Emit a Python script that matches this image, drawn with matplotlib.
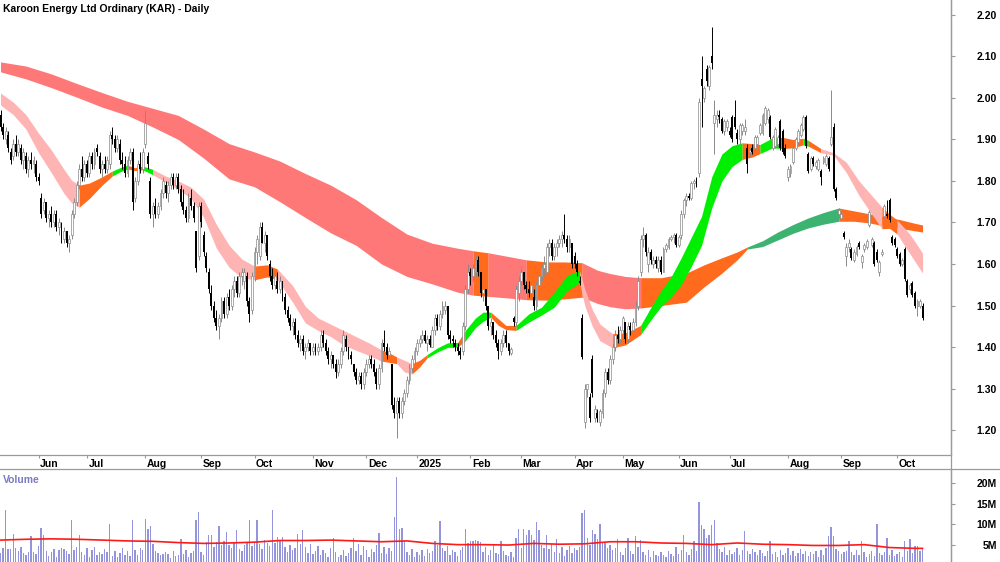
import numpy as np
import pandas as pd
import matplotlib
matplotlib.use("Agg")
import matplotlib.pyplot as plt
import matplotlib.transforms as mtransforms
from matplotlib.lines import Line2D

plt.rcParams['font.family'] = ['Liberation Sans', 'DejaVu Sans']

TITLE = "Karoon Energy Ltd Ordinary (KAR) - Daily"

# ASX trading days shown: 13 May 2024 .. 15 Oct 2025
first_day, last_day = "2024-05-13", "2025-10-15"
asx_holidays = ["2024-06-10", "2024-12-25", "2024-12-26", "2025-01-01", "2025-01-27",
                "2025-04-18", "2025-04-21", "2025-04-25", "2025-06-09"]

# daily prices in cents
opens = [
    196, 193, 190, 191, 187, 186, 189, 187, 188, 185,
    186, 183, 185, 184, 184, 181, 176, 173, 175, 171,
    172, 170, 172, 169, 169, 166, 168, 165, 167, 172,
    175, 179, 183, 181, 184, 182, 186, 184, 188, 186,
    183, 184, 183, 184, 191, 190, 188, 189, 185, 184,
    182, 185, 187, 176, 180, 184, 183, 189, 186, 180,
    172, 174, 172, 174, 177, 179, 177, 179, 181, 179,
    181, 178, 175, 173, 171, 176, 174, 168, 162, 174,
    167, 162, 158, 153, 150, 147, 145, 147, 151, 148,
    152, 150, 154, 156, 153, 157, 156, 157, 151, 149,
    157, 163, 162, 169, 165, 167, 160, 157, 155, 156,
    154, 156, 152, 149, 147, 145, 146, 143, 141, 142,
    139, 140, 141, 139, 140, 139, 140, 143, 141, 139,
    137, 138, 136, 134, 136, 139, 142, 140, 138, 136,
    134, 132, 133, 131, 134, 136, 137, 136, 134, 131,
    135, 141, 140, 138, 136, 126, 124, 127, 124, 127,
    129, 132, 135, 137, 139, 141, 142, 143, 141, 142,
    140, 144, 147, 145, 148, 149, 150, 143, 142, 141,
    140, 139, 139, 145, 154, 158, 157, 158, 161, 158,
    153, 154, 150, 145, 146, 143, 141, 139, 141, 143,
    141, 138.5, 147, 146, 153, 156, 158, 155, 154, 153,
    152, 150, 155, 157, 159, 158, 164, 165, 162, 164,
    165, 166, 167, 166, 164, 165, 162, 160, 156, 147,
    122, 130, 128, 137, 123, 124, 122, 124, 129, 134,
    132, 137, 140, 143, 142, 144, 146, 142, 145, 144,
    146, 150, 158, 166, 167, 160, 163, 160, 161, 159,
    161, 158, 163.5, 164, 166, 166.5, 167, 164.5, 167, 172,
    175.5, 176.5, 176, 179.5, 180.5, 182, 204.5, 200, 207, 203,
    210, 194, 195, 196, 195, 192, 193, 192, 195.5, 195.5,
    191.5, 190, 192, 192, 188, 187, 188, 188, 189, 191.5,
    191.5, 194, 195, 195.5, 188, 188.5, 189, 194.5, 192, 188,
    181, 182, 184.5, 188, 189.5, 191, 192.5, 195.5, 186.5, 183,
    185.5, 183.5, 183, 182.5, 184.5, 184, 185.5, 189, 193, 178,
    172, 171, 167.5, 162, 164, 163.5, 161, 162.5, 165, 160.5,
    163.5, 164, 169.5, 164.5, 165, 163, 158, 162.5, 171.5, 172,
    175.5, 166.5, 166, 163.5, 162.5, 160, 163.5, 156, 154, 155.5,
    153, 150, 150, 150,
]
highs = [
    197, 194, 193, 192, 188, 190, 191, 190, 189, 188,
    187, 186, 187, 186, 185, 182, 177, 176, 175, 173,
    174, 173, 173, 171, 170, 169, 168, 167, 173, 176,
    180, 184, 186, 185, 185, 187, 187, 188, 189, 187,
    185, 186, 186, 192, 193, 191, 191, 190, 187, 186,
    186, 188, 188, 181, 185, 187, 188, 197, 187, 181,
    175, 176, 175, 178, 181, 180, 180, 182, 182, 182,
    182, 179, 178, 174, 177, 178, 175, 168, 175, 175,
    168, 163, 159, 155, 151, 149, 148, 152, 152, 153,
    154, 155, 157, 157, 158, 159, 159, 158, 152, 158,
    164, 167, 170, 170, 168, 167, 161, 159, 158, 158,
    157, 156, 153, 150, 148, 147, 147, 144, 143, 143,
    141, 142, 141, 141, 141, 141, 144, 144, 142, 140,
    139, 138, 137, 137, 140, 144, 143, 140, 139, 136,
    135, 134, 134, 135, 137, 138, 138, 137, 135, 136,
    142, 144, 141, 140, 136, 128, 128, 128, 128, 130,
    133, 136, 138, 140, 142, 143, 144, 144, 143, 143,
    145, 148, 148, 149, 151, 151, 150, 144, 143, 142,
    141, 140, 146, 155, 160, 159, 160, 162, 162, 158,
    155, 154, 150, 147, 146, 144, 142, 142, 144, 144,
    141, 140, 147.5, 155, 157, 159, 158, 156, 156, 156,
    154, 156, 158, 160, 162, 165, 166, 166, 165, 166,
    167, 168, 172, 167, 167, 165, 163, 161, 157, 148,
    131, 131, 129, 138, 126, 125, 125, 130, 135, 135,
    138, 141, 144, 145, 145, 147.5, 146, 146, 146, 147,
    151, 157, 167, 169, 167.5, 164, 163.5, 162, 162, 162,
    162, 164, 165, 166.5, 167, 167.5, 167.5, 167, 173, 176,
    177, 177, 180, 180.5, 181, 200, 210, 203, 208, 208,
    217, 199.5, 197, 197, 195.5, 195, 195, 193, 196, 199.5,
    192.5, 194, 194, 195, 189, 188, 189, 191, 191, 194,
    196.5, 198, 197.5, 196, 191, 193, 191, 195, 192.5, 189,
    183.5, 184, 188.5, 190.5, 192.5, 194, 196, 196, 187, 186,
    186, 185, 185.5, 183, 186, 186.5, 186, 202, 194, 178.5,
    173.5, 172.5, 168, 165, 166, 164, 163.5, 164.5, 165.5, 162.5,
    165, 166, 173, 166.5, 165.5, 163.5, 161, 163.5, 174.5, 175.5,
    176, 167, 166.5, 164, 163, 161.5, 164, 156.5, 155.5, 156,
    153.5, 151.5, 151.5, 150.5,
]
lows = [
    192, 190, 189, 187, 184, 185, 186, 186, 184, 183,
    182, 181, 183, 182, 180, 179, 171, 172, 170, 169,
    169, 169, 168, 167, 165, 165, 164, 163, 166, 171,
    174, 178, 180, 180, 181, 181, 183, 183, 186, 182,
    181, 182, 182, 183, 189, 187, 187, 184, 183, 181,
    181, 184, 173, 175, 179, 182, 182, 188, 183, 171,
    169, 171, 171, 173, 176, 176, 175, 178, 178, 178,
    177, 174, 172, 170, 170, 173, 170, 158, 161, 169,
    162, 158, 153, 149, 146, 144, 142, 146, 147, 147,
    149, 149, 152, 152, 152, 155, 154, 150, 146, 148,
    156, 160, 161, 165, 163, 161, 156, 154, 154, 153,
    153, 151, 148, 146, 144, 143, 142, 140, 139, 138,
    137, 139, 138, 138, 138, 138, 139, 140, 138, 136,
    135, 135, 132.5, 133, 135, 138, 139, 137, 136, 133,
    131, 131, 130, 130, 133, 135, 135, 133, 130, 130,
    134, 139, 137, 137, 125, 123, 118, 123, 123, 126,
    128, 131, 134, 136, 138, 140, 141, 141, 139, 140,
    140, 143, 144, 144, 147, 148, 142, 141, 140, 139,
    138, 137, 138, 144, 153, 155, 156, 157, 157, 152,
    151, 149, 144, 143, 142, 140, 137, 138, 140, 140,
    138, 138, 145, 145, 151, 155, 154, 153, 152, 152,
    149, 149, 154, 156, 157, 157, 162, 161, 161, 162,
    164, 164, 165, 163, 163, 159, 159, 157, 155, 137,
    120.5, 128, 122, 128, 122, 122, 121, 123, 128, 131,
    131, 136, 139, 141, 141, 143, 141, 141, 143, 143,
    145, 149, 157, 164, 162, 158, 160, 159, 159, 158,
    157.5, 158, 163, 163.5, 165.5, 165, 164, 164, 166, 171,
    174, 175.5, 175.5, 178, 178.5, 181, 193, 199, 203, 202,
    207, 186.5, 193, 194, 191.5, 191, 192, 190.5, 189.5, 192.5,
    189, 189, 191, 191, 182, 186, 186.5, 187.5, 188.5, 191,
    191, 193.5, 194, 190, 187.5, 188, 188.5, 187.5, 186.5, 185.5,
    180, 181, 184, 187.5, 189, 190.5, 192, 188, 182, 182.5,
    183.5, 183, 182.5, 179, 184, 183.5, 182.5, 188.5, 177.5, 175.5,
    171, 170.5, 166, 159.5, 163, 161, 160.5, 162, 163.5, 159,
    163, 163.5, 169, 164, 159.5, 160.5, 157, 162, 171, 171,
    170, 164.5, 164, 161.5, 159.5, 159.5, 156, 152, 153, 152,
    149.5, 147.5, 149.5, 146.5,
]
closes = [
    193, 191, 192, 188, 185, 189, 187, 189, 185, 187,
    183, 185, 184, 185, 181, 180, 172, 175, 171, 172,
    170, 172, 169, 170, 166, 168, 165, 166, 172, 175,
    179, 183, 181, 184, 182, 186, 184, 187, 187, 183,
    184, 183, 185, 191, 190, 188, 190, 185, 184, 182,
    185, 187, 175, 180, 184, 183, 187, 194, 184, 172,
    174, 172, 174, 177, 180, 177, 179, 181, 179, 181,
    178, 175, 173, 171, 176, 174, 171, 159, 174, 170,
    163, 159, 154, 150, 147, 145, 147, 151, 148, 152,
    150, 154, 156, 153, 157, 158, 158, 151, 148, 157,
    163, 166, 169, 165, 167, 162, 157, 155, 157, 154,
    156, 152, 149, 147, 145, 146, 143, 141, 142, 139,
    140, 141, 139, 140, 139, 140, 143, 141, 139, 137,
    138, 136, 134, 136, 139, 143, 140, 138, 137, 134,
    132, 133, 131, 134, 136, 137, 136, 134, 131, 135,
    141, 140, 138, 139, 126, 124, 127, 124, 127, 129,
    132, 135, 137, 139, 141, 142, 143, 141.5, 142, 140.5,
    144, 147, 145, 148, 150, 150, 143, 142, 141.5, 140,
    139, 138, 145, 154, 158, 157, 159, 161, 158, 153,
    154, 150, 145, 146, 143, 141, 139, 141, 143, 141,
    139, 139.5, 146, 154, 156, 158, 155, 154, 153, 155,
    150, 155, 157, 159, 160, 164, 165, 162, 164, 165,
    166, 167, 166, 164, 166, 160, 160, 158, 155.5, 137.5,
    130, 131, 123, 129, 125, 123, 124.5, 129, 134, 132,
    137, 140, 143, 142, 144, 147, 142, 145, 144, 146,
    150, 156, 166, 167, 163, 163, 161, 161, 160, 161,
    158, 163.5, 164.5, 166, 166.5, 167, 164.5, 166.5, 172, 175.5,
    176.5, 176, 179.5, 180, 179, 199, 203, 202.5, 204, 207.5,
    208.5, 196, 196, 195.5, 192, 194.5, 194.5, 191, 190, 193,
    190, 193.5, 193.5, 193, 184, 187.5, 187, 190.5, 190.5, 193.5,
    196, 197.5, 197, 190.5, 190.5, 192.5, 190.5, 188, 187, 186,
    183, 183.5, 188, 190, 192, 193.5, 195.5, 188.5, 182.5, 185.5,
    184, 184.5, 185, 181, 185.5, 186, 183, 190.5, 178, 176,
    173, 172, 166.5, 164, 165, 161.5, 163, 164, 164, 162,
    164.5, 165.5, 172.5, 166, 160, 161, 160.5, 163, 174, 171.5,
    170.5, 165, 164.5, 162, 160, 161, 156.5, 152.5, 155, 152.5,
    150, 151, 151, 147,
]
# daily volume, millions of shares
volumes_m = [
    3.1, 4.2, 13.5, 4.0, 4.1, 7.7, 4.3, 3.5, 4.6, 3.0, 2.6, 3.2, 7.3, 3.4, 2.8, 4.8, 9.1, 7.4, 3.6, 2.4,
    3.3, 4.0, 2.2, 3.8, 4.4, 4.1, 3.5, 2.9, 11.0, 3.7, 4.5, 7.4, 3.2, 2.6, 4.3, 2.1, 3.9, 4.6, 2.5, 3.3,
    2.8, 4.0, 3.4, 10.0, 2.3, 3.6, 2.0, 3.1, 4.2, 2.7, 3.5, 2.4, 11.0, 3.8, 2.6, 4.4, 3.9, 11.2, 9.0, 9.7,
    5.2, 3.6, 3.1, 2.5, 2.9, 3.4, 2.8, 1.9, 3.5, 2.3, 2.7, 6.5, 2.9, 3.8, 2.2, 3.0, 3.6, 11.0, 13.0, 3.3,
    2.5, 5.8, 7.5, 7.5, 4.6, 5.7, 9.5, 4.9, 6.1, 8.2, 5.1, 4.4, 5.6, 8.7, 4.0, 3.6, 4.9, 5.4, 11.0, 4.7,
    5.8, 11.0, 5.2, 4.1, 6.3, 5.6, 4.8, 13.5, 5.5, 6.9, 5.9, 6.9, 4.5, 3.4, 5.0, 3.8, 4.4, 7.7, 5.2, 8.7,
    4.6, 3.1, 5.3, 2.8, 3.6, 4.8, 2.5, 3.9, 3.0, 2.2, 4.4, 6.7, 3.3, 2.0, 2.7, 3.8, 2.4, 3.1, 4.2, 6.7,
    3.5, 5.2, 2.6, 4.7, 3.9, 2.1, 4.0, 3.4, 4.9, 8.0, 3.1, 4.5, 2.8, 4.2, 3.6, 11.7, 21.5, 9.0, 9.2, 6.0,
    3.4, 2.5, 4.0, 2.1, 3.3, 2.7, 3.9, 2.3, 4.1, 3.0, 3.6, 6.0, 5.1, 10.8, 4.4, 3.5, 4.8, 2.7, 3.8, 3.2,
    2.4, 3.7, 4.6, 8.8, 5.4, 6.0, 6.0, 6.3, 6.1, 5.7, 3.4, 4.5, 2.6, 3.9, 5.2, 3.1, 2.9, 6.0, 3.5, 2.5,
    2.3, 3.2, 2.0, 6.7, 8.8, 4.2, 8.8, 7.5, 8.7, 7.5, 6.2, 10.6, 8.6, 4.9, 4.3, 7.5, 4.1, 5.3, 3.2, 6.5,
    3.0, 4.5, 2.3, 3.7, 4.8, 3.1, 4.4, 3.9, 4.6, 12.8, 13.5, 6.7, 5.0, 8.7, 7.7, 6.5, 10.0, 5.8, 5.5, 4.2,
    5.1, 3.8, 4.4, 6.5, 3.3, 2.6, 4.2, 6.7, 3.5, 2.9, 7.3, 4.6, 6.2, 3.4, 2.5, 3.8, 2.1, 3.6, 2.7, 2.4,
    3.2, 2.5, 2.2, 3.5, 2.9, 2.4, 4.6, 2.8, 3.9, 7.4, 3.3, 2.7, 4.1, 6.0, 3.5, 15.5, 9.8, 8.8, 6.7, 7.5,
    9.8, 11.0, 5.6, 4.0, 3.2, 4.5, 2.6, 3.7, 2.9, 3.4, 4.2, 2.7, 3.8, 8.3, 3.6, 2.8, 4.0, 3.3, 2.5, 3.9,
    3.1, 2.4, 3.6, 6.0, 2.9, 3.4, 2.2, 3.8, 2.7, 3.1, 4.2, 2.6, 3.5, 2.3, 3.0, 4.1, 2.8, 3.6, 2.4, 3.3,
    2.9, 3.5, 2.1, 3.8, 2.6, 4.2, 7.3, 9.3, 7.3, 4.1, 3.5, 2.9, 3.3, 3.6, 6.0, 3.2, 2.5, 3.9, 2.7, 6.1,
    3.4, 2.2, 2.9, 3.6, 2.4, 10.0, 3.1, 2.6, 3.3, 6.7, 2.5, 3.8, 2.3, 2.8, 3.2, 2.1, 5.9, 3.5, 6.5, 3.1,
    4.8, 4.8, 3.6, 4.3,
]
# volume moving average (millions) at bar positions
vol_ma_x = list(range(0, 361, 10)) + [363]
vol_ma_m = [6.2, 6.4, 6.5, 6.4, 6.2, 6.0, 5.9, 5.6, 5.4, 5.5,
            5.7, 6.1, 6.1, 6.2, 6.0, 5.8, 6.0, 5.4, 5.1, 5.1,
            5.0, 5.4, 5.2, 5.3, 5.8, 5.8, 5.5, 5.4, 5.1, 5.5,
            5.2, 5.1, 4.9, 4.9, 5.1, 4.4, 4.2, 4.2]

# long-term trend ribbon edges at bar positions
long_x = [0, 10, 20, 30, 40, 50, 60, 70, 80, 90,
          100, 110, 120, 130, 140, 150, 160, 170, 180,
          186, 192, 200, 207, 215, 222, 229, 235, 240, 246,
          252, 260, 270, 277, 284, 290, 294, 300, 306, 312,
          318, 324, 330, 336, 342, 348, 354, 360, 363]
long_top = [2.087, 2.077, 2.058, 2.035, 2.013, 1.992, 1.975, 1.958, 1.925, 1.89,
            1.87, 1.848, 1.818, 1.79, 1.755, 1.712, 1.672, 1.65, 1.638,
            1.632, 1.627, 1.618, 1.61, 1.605, 1.605, 1.603, 1.585, 1.577, 1.57,
            1.567, 1.567, 1.578, 1.598, 1.615, 1.629, 1.641, 1.656, 1.677, 1.695,
            1.711, 1.724, 1.735, 1.728, 1.721, 1.714, 1.707, 1.698, 1.694]
long_bot = [2.063, 2.046, 2.025, 2.002, 1.978, 1.958, 1.93, 1.90, 1.855, 1.805,
            1.786, 1.75, 1.712, 1.675, 1.645, 1.60, 1.57, 1.552, 1.532,
            1.525, 1.522, 1.518, 1.514, 1.513, 1.516, 1.52, 1.505, 1.497, 1.492,
            1.494, 1.50, 1.508, 1.545, 1.578, 1.61, 1.636, 1.642, 1.658, 1.674,
            1.687, 1.696, 1.703, 1.703, 1.699, 1.692, 1.686, 1.68, 1.677]
long_states = [(0, 186, "down"), (186, 192, "flat"), (192, 207, "down"), (207, 229, "flat"),
               (229, 252, "down"), (252, 294, "flat"), (294, 330, "up"), (330, 363, "flat")]

# short-term trend ribbon edges at bar positions
short_x = [0, 5, 10, 15, 20, 25, 28, 31, 35, 40,
           44, 47, 50, 53, 56, 60, 65, 70, 75, 80,
           85, 90, 95, 100, 105, 109, 115, 120, 125, 130,
           135, 140, 145, 150, 153, 156, 159, 162, 165, 168,
           172, 176, 180, 183, 187, 190, 193, 196, 199, 203,
           208, 213, 218, 223, 228, 230, 233, 236, 241, 246,
           252, 256, 260, 264, 268, 272, 276, 280, 284, 288,
           292, 296, 299, 304, 308, 312, 316, 318, 323, 328,
           333, 338, 343, 347, 350, 353, 358, 363]
short_top = [2.012, 1.99, 1.96, 1.915, 1.875, 1.828, 1.802, 1.79, 1.795, 1.81,
             1.824, 1.832, 1.838, 1.832, 1.836, 1.828, 1.812, 1.80, 1.785, 1.756,
             1.695, 1.645, 1.612, 1.595, 1.598, 1.588, 1.548, 1.498, 1.47, 1.455,
             1.44, 1.425, 1.41, 1.393, 1.386, 1.376, 1.368, 1.36, 1.368, 1.382,
             1.398, 1.41, 1.411, 1.44, 1.47, 1.484, 1.484, 1.468, 1.452, 1.452,
             1.48, 1.496, 1.532, 1.572, 1.585, 1.54, 1.49, 1.455, 1.432, 1.434,
             1.452, 1.495, 1.535, 1.569, 1.615, 1.665, 1.715, 1.81, 1.865, 1.885,
             1.892, 1.89, 1.888, 1.904, 1.905, 1.90, 1.903, 1.898, 1.878, 1.868,
             1.845, 1.80, 1.765, 1.737, 1.72, 1.706, 1.672, 1.626]
short_bot = [1.983, 1.96, 1.925, 1.868, 1.82, 1.77, 1.747, 1.737, 1.758, 1.79,
             1.812, 1.822, 1.829, 1.825, 1.827, 1.815, 1.797, 1.78, 1.758, 1.712,
             1.638, 1.592, 1.567, 1.562, 1.569, 1.562, 1.508, 1.458, 1.44, 1.425,
             1.405, 1.392, 1.38, 1.366, 1.363, 1.36, 1.34, 1.335, 1.352, 1.374,
             1.388, 1.399, 1.40, 1.415, 1.447, 1.462, 1.472, 1.452, 1.442, 1.44,
             1.46, 1.477, 1.496, 1.535, 1.555, 1.50, 1.45, 1.415, 1.398, 1.405,
             1.43, 1.465, 1.497, 1.52, 1.55, 1.595, 1.645, 1.735, 1.80, 1.835,
             1.852, 1.858, 1.866, 1.88, 1.878, 1.88, 1.887, 1.884, 1.868, 1.862,
             1.82, 1.765, 1.72, 1.685, 1.686, 1.672, 1.625, 1.578]
short_states = [(0, 31, "down"), (31, 44, "flat"), (44, 50, "up"), (50, 56, "flat"), (56, 60, "up"),
                (60, 100, "down"), (100, 109, "flat"), (109, 150, "down"), (150, 156, "flat"),
                (156, 162, "down"), (162, 168, "flat"), (168, 180, "up"), (180, 183, "flat"),
                (183, 193, "up"), (193, 203, "flat"), (203, 228, "up"), (228, 241, "down"),
                (241, 252, "flat"), (252, 292, "up"), (292, 299, "flat"), (299, 308, "up"),
                (308, 316, "flat"), (316, 318, "up"), (318, 323, "flat"), (323, 347, "down"),
                (347, 353, "flat"), (353, 363, "down")]

long_colours = {"down": "#ff7878", "flat": "#ff6a1c", "up": "#3cb371"}
short_colours = {"down": "#ffb4b4", "flat": "#ff6a1c", "up": "#00ee00"}
GREY = "#9a9a9a"

n = min(len(opens), len(highs), len(lows), len(closes), len(volumes_m))
o = np.array(opens[:n]) / 100
h = np.array(highs[:n]) / 100
l = np.array(lows[:n]) / 100
c = np.array(closes[:n]) / 100
vol = np.array(volumes_m[:n]) * 1e6
idx = np.arange(n)

dates = pd.bdate_range(first_day, last_day, freq="C", holidays=asx_holidays)[:n]
month_pos = [i for i in range(1, len(dates)) if dates[i].month != dates[i - 1].month]
month_lab = [str(dates[i].year) if dates[i].month == 1 else dates[i].strftime("%b") for i in month_pos]

W, H = 1000, 562
fig = plt.figure(figsize=(W / 100, H / 100), dpi=100)
ax = fig.add_axes([0, 1 - 455 / H, 951 / W, 455 / H])
axv = fig.add_axes([0, 0, 951 / W, 93 / H])

x_lim = (-0.2, 374.2)


def draw_ribbon(axis, xs, top, bot, states, colours, z):
    xs = np.asarray(xs)
    top = np.asarray(top)
    bot = np.asarray(bot)
    for s, e, state in states:
        m = (xs >= s) & (xs <= e)
        axis.fill_between(xs[m], bot[m], top[m], color=colours[state], lw=0, zorder=z)


draw_ribbon(ax, long_x, long_top, long_bot, long_states, long_colours, 1)
draw_ribbon(ax, short_x, short_top, short_bot, short_states, short_colours, 2)

# candles
up = c >= o
body_lo = np.minimum(o, c)
body_h = np.maximum(np.abs(c - o), 0.003)
ax.vlines(idx[up], l[up], h[up], color="#8a8a8a", lw=0.7, zorder=3)
ax.vlines(idx[~up], l[~up], h[~up], color="black", lw=0.7, zorder=3)
ax.bar(idx[up], body_h[up], bottom=body_lo[up], width=0.75, facecolor="white",
       edgecolor="#8a8a8a", linewidth=0.5, zorder=4)
ax.bar(idx[~up], body_h[~up], bottom=body_lo[~up], width=0.75, color="black",
       linewidth=0, zorder=4)

ax.set_xlim(*x_lim)
ax.set_ylim(1.1398, 2.2361)
for s in ("top", "left"):
    ax.spines[s].set_visible(False)
for s in ("bottom", "right"):
    ax.spines[s].set_color(GREY)
    ax.spines[s].set_linewidth(0.9)

ax.yaxis.tick_right()
yt = np.arange(12, 23) / 10
ax.set_yticks(yt)
ax.set_yticklabels([f"{v:.2f}" for v in yt])
ax.tick_params(axis="y", direction="out", length=3, color=GREY, labelsize=7.5, pad=30)
for t in ax.get_yticklabels():
    t.set_fontweight("bold")
    t.set_horizontalalignment("right")

ax.set_xticks(month_pos)
ax.set_xticklabels([])
ax.tick_params(axis="x", direction="out", length=2.5, color=GREY)
trans = mtransforms.blended_transform_factory(ax.transData, ax.transAxes)
for p, lab in zip(month_pos, month_lab):
    ax.text(p + 0.6, -11.7 / 455, lab, transform=trans, ha="left", va="baseline",
            fontsize=7.5, fontweight="bold", color="black")

# volume
axv.bar(idx, vol, width=0.55, color="#9494dc", linewidth=0, zorder=2)
axv.plot(vol_ma_x, np.array(vol_ma_m) * 1e6, color="#ff1a1a", lw=1.2, zorder=3)
axv.set_xlim(*x_lim)
axv.set_ylim(0.9e6, 23.4e6)
for s in ("top", "left", "bottom"):
    axv.spines[s].set_visible(False)
axv.spines["right"].set_color(GREY)
axv.spines["right"].set_linewidth(0.9)
axv.set_xticks([])
axv.yaxis.tick_right()
vt = [5e6, 10e6, 15e6, 20e6]
axv.set_yticks(vt)
axv.set_yticklabels([f"{int(v / 1e6)}M" for v in vt])
axv.tick_params(axis="y", direction="out", length=3, color=GREY, labelsize=7.5, pad=30)
for t in axv.get_yticklabels():
    t.set_fontweight("bold")
    t.set_horizontalalignment("right")

# frame lines of the date strip
fig.add_artist(Line2D([0, 1], [1 - 469 / H] * 2, transform=fig.transFigure, color=GREY, lw=0.9))
fig.add_artist(Line2D([951 / W] * 2, [0, 1], transform=fig.transFigure, color=GREY, lw=0.9))

fig.text(3 / W, 1 - 12.5 / H, TITLE, ha="left", va="baseline", fontsize=7.5, fontweight="bold")
fig.text(3 / W, 1 - 482.7 / H, "Volume", ha="left", va="baseline", fontsize=7.5,
         fontweight="bold", color="#7b7bc0")

fig.savefig("out.png", dpi=100)
